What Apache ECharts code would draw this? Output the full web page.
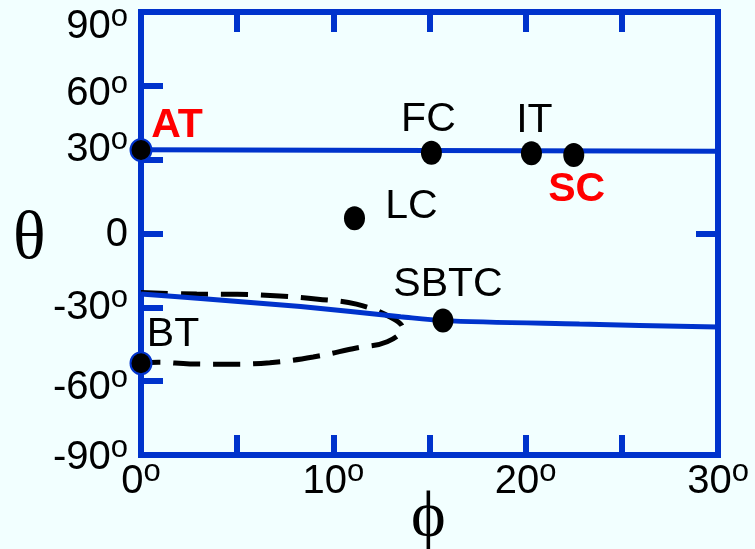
<!DOCTYPE html>
<html>
<head>
<meta charset="utf-8">
<script src="https://cdn.jsdelivr.net/npm/echarts@6/dist/echarts.min.js"></script>
<style>
html,body{margin:0;padding:0;background:#f2ffff;}
#chart{width:755px;height:549px;}
</style>
</head>
<body>
<div id="chart"></div>
<script>
// ---- data ----
const pointNames = ['AT', 'FC', 'IT', 'SC', 'LC', 'SBTC', 'BT'];
const pointPhi   = [0, 15.1, 20.3, 22.5, 11.1, 15.7, 0];
const pointTheta = [33.9, 32.8, 32.6, 31.9, 6.2, -35.4, -52.7];

const upperPhi   = [0, 30];
const upperTheta = [34.0, 33.4];

const lowerPhi   = [0, 3.1, 8.3, 13.5, 15.7, 22.8, 30];
const lowerTheta = [-24.6, -26.4, -29.7, -33.8, -35.4, -36.8, -38.0];

const dashPhi   = [0, 2.9, 5.0, 7.2, 9.2, 11.2, 12.95, 13.6, 12.8, 11.2, 8.95, 6.7, 4.5, 2.55, 0.9, 0];
const dashTheta = [-24.0, -24.6, -24.7, -25.4, -26.7, -28.7, -33.9, -38.4, -44.0, -46.5, -50.2, -52.5, -53.1, -53.0, -52.3, -52.6];

const xTickLabels = [0, 10, 20, 30];
const yTickLabels = [-90, -60, -30, 0, 30, 60, 90];

// ---- styles ----
const BLUE = '#0033cc';
const labelStyle = {
  AT:   {offset: [36, -24], color: '#ff0000', fontWeight: 'bold', border: true},
  FC:   {offset: [-3, -33], color: '#000'},
  IT:   {offset: [3, -33], color: '#000'},
  SC:   {offset: [3, 35], color: '#ff0000', fontWeight: 'bold'},
  LC:   {offset: [57, -12], color: '#000'},
  SBTC: {offset: [5, -36], color: '#000'},
  BT:   {offset: [32, -29], color: '#000', border: true}
};
// vertical nudge (px, + = down) of each y tick label, as placed in the original figure
const yLabelNudge = [3, 7, 1, 1, -10, 8, 15];

const zip = (a, b) => a.map((v, i) => [v, b[i]]);

const FONT = 'Liberation Sans';
const tickRich = {
  n: {fontSize: 40, fontFamily: FONT, color: '#000', verticalAlign: 'top'},
  o: {fontSize: 31, fontFamily: FONT, color: '#000', verticalAlign: 'top', padding: [-5, 0, 0, 0]}
};
yTickLabels.forEach((v, i) => {
  const d = yLabelNudge[i];
  const pad = d >= 0 ? [2 * d, 0, 0, 0] : [0, 0, -2 * d, 0];
  tickRich['yn' + i] = {fontSize: 40, fontFamily: FONT, color: '#000', verticalAlign: 'top', padding: pad};
  tickRich['yo' + i] = {fontSize: 31, fontFamily: FONT, color: '#000', verticalAlign: 'top', padding: [2 * Math.max(d, 0) - 5, 0, 0, 0]};
});

const chart = echarts.init(document.getElementById('chart'));
chart.setOption({
  backgroundColor: '#f2ffff',
  animation: false,
  grid: {left: 141, right: 37, top: 12, bottom: 94, show: true, borderColor: BLUE, borderWidth: 6,
         backgroundColor: 'transparent', outerBoundsMode: 'none', containLabel: false},
  xAxis: [{
    type: 'value', min: 0, max: 30, interval: 5, position: 'bottom',
    axisLine: {show: false, onZero: false}, splitLine: {show: false},
    axisTick: {show: true, inside: true, length: 20, lineStyle: {color: BLUE, width: 6}},
    axisLabel: {margin: 7, rich: tickRich,
      formatter: v => xTickLabels.indexOf(v) >= 0 ? '{n|' + v + '}{o|o}' : ''}
  }, {
    type: 'value', min: 0, max: 30, interval: 5, position: 'top',
    axisLine: {show: false, onZero: false}, splitLine: {show: false}, axisLabel: {show: false},
    axisTick: {show: true, inside: true, length: 20, lineStyle: {color: BLUE, width: 6}}
  }],
  yAxis: [{
    type: 'value', min: -90, max: 90, interval: 30, position: 'left',
    axisLine: {show: false, onZero: false}, splitLine: {show: false},
    axisTick: {show: true, inside: true, length: 22, lineStyle: {color: BLUE, width: 6}},
    axisLabel: {margin: 13, rich: tickRich,
      formatter: v => {
        const i = yTickLabels.indexOf(v);
        if (i < 0) return '';
        return v === 0 ? '{yn' + i + '|0}' : '{yn' + i + '|' + v + '}{yo' + i + '|o}';
      }}
  }, {
    type: 'value', min: -90, max: 90, interval: 90, position: 'right',
    axisLine: {show: false, onZero: false}, splitLine: {show: false}, axisLabel: {show: false},
    axisTick: {show: true, inside: true, length: 22, lineStyle: {color: BLUE, width: 6}}
  }],
  graphic: [
    {type: 'text', left: 13, top: 206, style: {text: 'θ', font: '68px "Liberation Serif"', fill: '#000'}},
    {type: 'text', left: 411, top: 486, style: {text: 'ϕ', font: '66px "Liberation Serif"', fill: '#000'}}
  ],
  series: [
    {
      type: 'line', data: zip(dashPhi, dashTheta), smooth: 0.4, symbol: 'none', clip: false,
      lineStyle: {color: '#000', width: 5, type: [27, 13]}, z: 2
    },
    {
      type: 'line', data: zip(upperPhi, upperTheta), symbol: 'none', clip: false,
      lineStyle: {color: BLUE, width: 5}, z: 3
    },
    {
      type: 'line', data: zip(lowerPhi, lowerTheta), smooth: 0.3, symbol: 'none', clip: false,
      lineStyle: {color: BLUE, width: 5}, z: 3
    },
    {
      type: 'scatter', clip: false, z: 5,
      itemStyle: {opacity: 1},
      data: pointNames.map((n, i) => {
        const s = labelStyle[n];
        return {
          name: n, value: [pointPhi[i], pointTheta[i]],
          symbolSize: s.border ? [21, 22] : [21, 24],
          itemStyle: {color: '#000', opacity: 1, borderColor: s.border ? BLUE : '#000', borderWidth: s.border ? 2 : 0},
          label: {
            show: true, formatter: n, position: 'inside', offset: s.offset,
            color: s.color, opacity: 1, fontWeight: s.fontWeight || 'normal',
            fontSize: 41, fontFamily: FONT, align: 'center', verticalAlign: 'middle'
          }
        };
      })
    }
  ]
});
</script>
</body>
</html>
